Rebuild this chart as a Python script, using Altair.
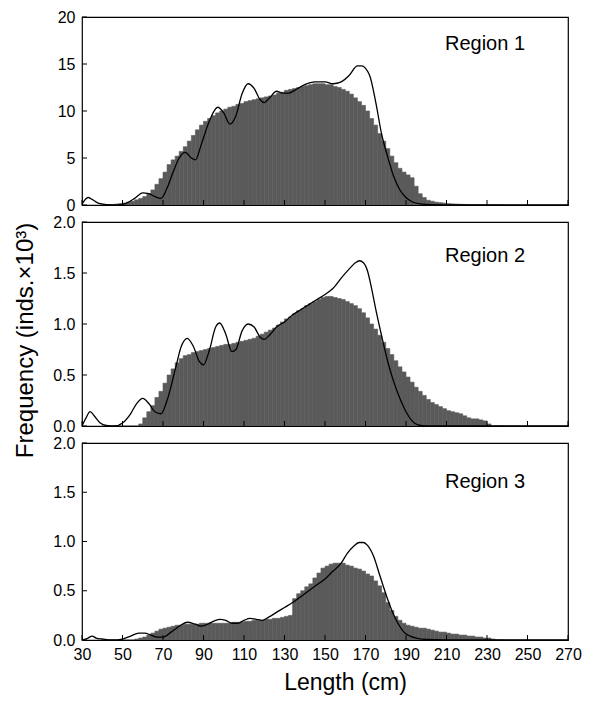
import altair as alt
import pandas as pd

# ---------------- data ----------------
bin_start = list(range(40, 238, 2))  # 2 cm length classes
bin_width = 2

hist1 = [0, 0, 0.05, 0.1, 0.15, 0.2, 0.3, 0.4, 0.55, 0.7,
         0.9, 1.2, 1.6, 2.2, 2.8, 3.5, 4.3, 4.8, 5.2, 5.7,
         6.2, 6.8, 7.4, 8.0, 8.5, 8.9, 9.2, 9.5, 9.8, 10.0,
         10.2, 10.4, 10.5, 10.7, 10.8, 11.0, 11.1, 11.2, 11.3, 11.4,
         11.5, 11.6, 11.7, 11.9, 12.0, 12.2, 12.3, 12.4, 12.5, 12.6,
         12.7, 12.8, 12.9, 12.9, 12.9, 12.8, 12.8, 12.6, 12.5, 12.3,
         12.1, 11.8, 11.4, 11.0, 10.6, 10.0, 9.2, 8.5, 7.6, 6.8,
         6.0, 5.2, 4.5, 3.9, 3.5, 3.2, 2.9, 2.0, 1.2, 0.8,
         0.5, 0.4, 0.3, 0.25, 0.2, 0.15, 0.12, 0.1, 0.08, 0.06,
         0.05, 0.04, 0.03, 0.02, 0.01, 0, 0, 0, 0]

hist2 = [0, 0, 0, 0, 0, 0, 0, 0, 0, 0.02,
         0.08, 0.14, 0.2, 0.28, 0.34, 0.42, 0.5, 0.56, 0.62, 0.66,
         0.69, 0.70, 0.72, 0.73, 0.74, 0.75, 0.76, 0.77, 0.78, 0.79,
         0.8, 0.8, 0.81, 0.82, 0.83, 0.84, 0.85, 0.86, 0.88, 0.9,
         0.92, 0.94, 0.96, 0.99, 1.02, 1.05, 1.07, 1.1, 1.13, 1.15,
         1.18, 1.2, 1.22, 1.24, 1.26, 1.27, 1.27, 1.26, 1.25, 1.24,
         1.22, 1.2, 1.18, 1.15, 1.11, 1.06, 1.0, 0.95, 0.89, 0.82,
         0.76, 0.7, 0.64, 0.58, 0.53, 0.48, 0.43, 0.38, 0.34, 0.3,
         0.26, 0.23, 0.21, 0.19, 0.17, 0.15, 0.14, 0.13, 0.12, 0.1,
         0.08, 0.07, 0.07, 0.06, 0.05, 0.02, 0, 0, 0]

hist3 = [0, 0, 0, 0, 0, 0, 0, 0, 0.01, 0.02,
         0.03, 0.05, 0.07, 0.09, 0.11, 0.12, 0.13, 0.14, 0.15, 0.15,
         0.16, 0.16, 0.16, 0.16, 0.17, 0.17, 0.17, 0.17, 0.17, 0.17,
         0.17, 0.17, 0.18, 0.18, 0.18, 0.19, 0.19, 0.2, 0.2, 0.2,
         0.21, 0.21, 0.22, 0.22, 0.23, 0.24, 0.25, 0.42, 0.47, 0.5,
         0.54, 0.57, 0.63, 0.68, 0.73, 0.75, 0.77, 0.78, 0.78, 0.78,
         0.76, 0.75, 0.73, 0.72, 0.7, 0.67, 0.65, 0.6, 0.55, 0.48,
         0.38, 0.3, 0.24, 0.2, 0.17, 0.15, 0.14, 0.13, 0.12, 0.12,
         0.11, 0.1, 0.09, 0.08, 0.08, 0.07, 0.06, 0.06, 0.05, 0.05,
         0.04, 0.04, 0.03, 0.03, 0.02, 0.02, 0.01, 0, 0]

line1_x = [30, 33, 35, 38, 42, 48, 52, 56, 60, 63, 66, 69, 72, 75, 78, 81, 84, 86,
           89, 93, 97, 100, 103, 106, 109, 112, 115, 118, 120, 123, 126, 129, 132,
           135, 140, 145, 150, 154, 158, 162, 166, 168, 172, 175, 178, 181, 184,
           187, 190, 193, 197, 203, 212, 270]
line1_y = [0.1, 0.8, 0.6, 0.2, 0.05, 0.0, 0.2, 0.7, 1.3, 1.2, 0.9, 0.7, 1.8, 3.5, 5.0,
           5.6, 5.0, 4.8, 6.5, 9.0, 10.4, 9.8, 8.6, 9.5, 11.8, 12.9, 12.4, 11.2, 10.9,
           11.5, 12.1, 11.9, 11.9, 12.2, 12.8, 13.1, 13.1, 12.9, 13.1, 13.8, 14.8,
           14.8, 13.8, 11.0, 7.5, 5.1, 3.0, 1.6, 0.8, 0.35, 0.12, 0.03, 0.0, 0.0]

line2_x = [30, 32, 34, 36, 39, 42, 46, 50, 54, 57, 60, 63, 66, 69, 72, 76, 79, 82, 85,
           88, 90, 93, 96, 98, 101, 104, 106, 109, 112, 115, 118, 120, 123, 126, 130,
           134, 138, 142, 146, 150, 154, 158, 162, 165, 167, 169, 171, 173, 175, 178,
           181, 184, 187, 190, 193, 196, 200, 270]
line2_y = [0.0, 0.08, 0.14, 0.1, 0.03, 0.005, 0.0, 0.03, 0.12, 0.22, 0.27, 0.22, 0.14,
           0.12, 0.25, 0.55, 0.78, 0.86, 0.78, 0.63, 0.60, 0.75, 0.97, 1.01, 0.9, 0.73,
           0.75, 0.93, 1.0, 0.97, 0.87, 0.85, 0.9, 0.97, 1.02, 1.09, 1.14, 1.19, 1.24,
           1.29, 1.35, 1.45, 1.54, 1.6, 1.62, 1.6, 1.52, 1.35, 1.15, 0.88, 0.63, 0.43,
           0.27, 0.14, 0.05, 0.01, 0.0, 0.0]

line3_x = [30, 33, 35, 37, 40, 45, 50, 54, 58, 61, 64, 67, 70, 74, 78, 82, 86, 89, 92,
           96, 98, 101, 104, 107, 110, 113, 116, 119, 122, 126, 130, 134, 138, 142,
           146, 150, 154, 158, 161, 164, 167, 169, 171, 174, 177, 180, 183, 186, 189,
           192, 195, 200, 210, 270]
line3_y = [0.0, 0.02, 0.04, 0.02, 0.01, 0.0, 0.01, 0.04, 0.07, 0.07, 0.05, 0.03, 0.03,
           0.08, 0.14, 0.18, 0.16, 0.14, 0.16, 0.2, 0.21, 0.2, 0.17, 0.17, 0.2, 0.22,
           0.21, 0.2, 0.23, 0.28, 0.33, 0.38, 0.44, 0.5, 0.56, 0.62, 0.7, 0.78, 0.88,
           0.95, 0.99, 0.99, 0.96, 0.85, 0.66, 0.47, 0.3, 0.17, 0.08, 0.04, 0.02, 0.005,
           0.0, 0.0]

x_ticks = [30, 50, 70, 90, 110, 130, 150, 170, 190, 210, 230, 250, 270]
y_ticks_1 = [0, 5, 10, 15, 20]
y_ticks_23 = [0.0, 0.5, 1.0, 1.5, 2.0]
region_labels = ["Region 1", "Region 2", "Region 3"]

# ---------------- styling ----------------
FONT = "Liberation Sans"
W = 486
BAR = "#5a5a5a"


def panel(hist, lx, ly, ymax, yticks, label, height, label_y, show_x, ytitle):
    hdf = pd.DataFrame({"x": bin_start, "x2": [b + bin_width for b in bin_start], "v": hist})
    ldf = pd.DataFrame({"x": lx, "v": ly})
    xs = alt.Scale(domain=[30, 270], nice=False, zero=False)
    ys = alt.Scale(domain=[0, ymax], nice=False)

    if show_x:
        xaxis = alt.Axis(values=x_ticks, title="Length (cm)", labelFontSize=16,
                         titleFontSize=23, titleFontWeight="normal", labelPadding=6,
                         ticks=False, tickSize=0, domain=False, grid=False,
                         titleX=263, titleY=31, labelFlush=False)
    else:
        xaxis = alt.Axis(values=x_ticks, labels=False, ticks=False, tickSize=0,
                         domain=False, grid=False, title=None)

    fmt = "d" if ymax > 5 else ".1f"
    yargs = dict(values=yticks, format=fmt, labelFontSize=16, labelPadding=7,
                 ticks=False, tickSize=0, domain=False, grid=False, labelFlush=False)
    if ytitle:
        yaxis = alt.Axis(title=ytitle, titleFontSize=24, titleFontWeight="normal",
                         titleX=-45, titleY=118, **yargs)
    else:
        yaxis = alt.Axis(title=None, **yargs)

    bars = alt.Chart(hdf).mark_rect(color=BAR, stroke=BAR, strokeWidth=0.6, clip=True).encode(
        x=alt.X("x:Q", scale=xs, axis=xaxis),
        x2="x2:Q",
        y=alt.Y("v:Q", scale=ys, axis=yaxis),
        y2=alt.datum(0),
    )
    line = alt.Chart(ldf).mark_line(color="black", strokeWidth=1.3,
                                    interpolate="monotone", clip=True).encode(
        x=alt.X("x:Q", scale=xs),
        y=alt.Y("v:Q", scale=ys),
    )
    xt = alt.Chart(pd.DataFrame({"x": x_ticks})).mark_rule(color="black", strokeWidth=1).encode(
        x=alt.X("x:Q", scale=xs),
        y=alt.value(height),
        y2=alt.value(height - 5),
    )
    yt = alt.Chart(pd.DataFrame({"v": yticks})).mark_rule(color="black", strokeWidth=1).encode(
        y=alt.Y("v:Q", scale=ys),
        x=alt.value(0),
        x2=alt.value(5),
    )
    txt = alt.Chart(pd.DataFrame({"t": [label]})).mark_text(
        font=FONT, fontSize=20, color="black", align="center", baseline="middle"
    ).encode(text="t:N", x=alt.value(403), y=alt.value(label_y))

    return alt.layer(bars, line, xt, yt, txt).properties(width=W, height=height)


p1 = panel(hist1, line1_x, line1_y, 20, y_ticks_1, region_labels[0], 188, 27, False, None)
p2 = panel(hist2, line2_x, line2_y, 2, y_ticks_23, region_labels[1], 204, 34, False,
           "Frequency (inds.×10³)")
p3 = panel(hist3, line3_x, line3_y, 2, y_ticks_23, region_labels[2], 197, 39, True, None)

chart = alt.vconcat(p1, p2, p3, spacing=17, bounds="flush").properties(
    padding={"left": 4, "top": 0, "right": 0, "bottom": 0}
).configure(
    font=FONT,
).configure_view(
    stroke="black", strokeWidth=1.2
).configure_axis(
    labelFont=FONT, titleFont=FONT, labelColor="black", titleColor="black"
)

chart.save("out.html", embed_options={"renderer": "svg", "actions": False})
